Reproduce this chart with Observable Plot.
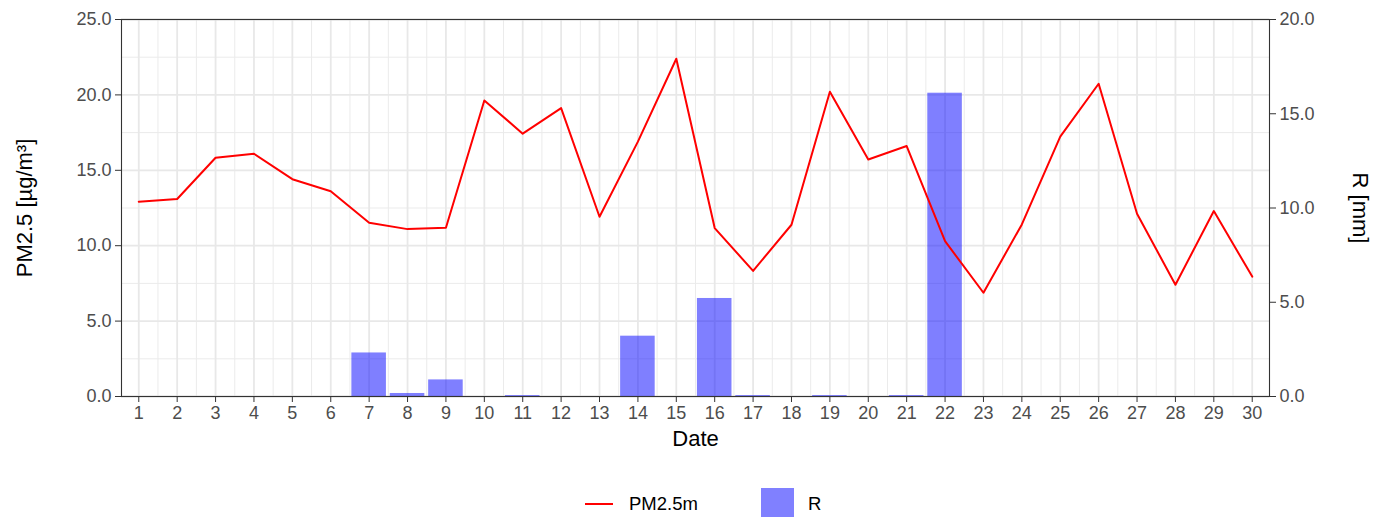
<!DOCTYPE html>
<html>
<head>
<meta charset="utf-8">
<script src="https://cdn.jsdelivr.net/npm/d3@7"></script>
<script src="https://cdn.jsdelivr.net/npm/@observablehq/plot@0.6"></script>
<style>
  body { margin: 0; background: #fff; font-family: "Liberation Sans", Arial, sans-serif; }
  #wrap { width: 1376px; }
  #legend { position: relative; width: 1376px; height: 47px; overflow: hidden; font-size: 18.5px; color: #000; }
  #legend .ln { position: absolute; left: 585px; top: 33px; width: 28px; height: 2px; background: #ff0000; }
  #legend .sq { position: absolute; left: 761px; top: 18px; width: 33px; height: 33px; background: #8080ff; }
  #legend .t1 { position: absolute; left: 629px; top: 23px; line-height: 22px; }
  #legend .t2 { position: absolute; left: 808px; top: 23px; line-height: 22px; }
  svg g[aria-label="y-axis tick label"] text, svg g[aria-label="x-axis tick label"] text { fill: #4d4d4d; }
</style>
</head>
<body>
<div id="wrap">
  <div id="chart"></div>
  <div id="legend">
    <div class="ln"></div><div class="t1">PM2.5m</div>
    <div class="sq"></div><div class="t2">R</div>
  </div>
</div>
<script>
const days = [1,2,3,4,5,6,7,8,9,10,11,12,13,14,15,16,17,18,19,20,21,22,23,24,25,26,27,28,29,30];
const pm25 = [12.92,13.10,15.83,16.10,14.41,13.61,11.52,11.10,11.19,19.63,17.43,19.12,11.92,16.9,22.40,11.17,8.33,11.39,20.21,15.72,16.61,10.30,6.88,11.41,17.23,20.74,12.12,7.41,12.30,7.95];
const rain = [0,0,0,0,0,0,2.31,0.16,0.88,0,0.05,0,0,3.2,0,5.2,0.05,0,0.05,0,0.05,16.09,0,0,0,0,0,0,0,0];
const pmTicks = [0,5,10,15,20,25];
const pmMinor = [2.5,7.5,12.5,17.5,22.5];
const rTicks = [0,5,10,15,20];
const dayMinor = days.slice(0,-1).map(d => d + 0.5);
const ratio = 25 / 20;

const data = days.map((d, i) => ({day: d, pm: pm25[i], r: rain[i]}));

const W = 1376, H = 470;
const chart = Plot.plot({
  width: W,
  height: H,
  marginLeft: 121,
  marginRight: 107,
  marginTop: 19,
  marginBottom: H - 396,
  style: {fontFamily: '"Liberation Sans", Arial, sans-serif', fontSize: "18px", background: "white", overflow: "visible"},
  x: {domain: [0.55, 30.45]},
  y: {domain: [0, 25]},
  marks: [
    Plot.gridX(dayMinor, {stroke: "#ebebeb", strokeOpacity: 1, strokeWidth: 1}),
    Plot.gridY(pmMinor, {stroke: "#ebebeb", strokeOpacity: 1, strokeWidth: 1}),
    Plot.gridX(days, {stroke: "#e8e8e8", strokeOpacity: 1, strokeWidth: 1.8}),
    Plot.gridY(pmTicks, {stroke: "#e8e8e8", strokeOpacity: 1, strokeWidth: 1.8}),
    Plot.rectY(data, {x1: d => d.day - 0.45, x2: d => d.day + 0.45, y1: 0, y2: d => d.r * ratio, fill: "#0000ff", fillOpacity: 0.5}),
    Plot.line(data, {x: "day", y: "pm", stroke: "#ff0000", strokeWidth: 2}),
    Plot.frame({stroke: "#333333", strokeWidth: 1.1}),
    Plot.axisY(pmTicks, {anchor: "left", tickFormat: d => d.toFixed(1), tickSize: 6, tickPadding: 4, label: null, stroke: "#333333", fontSize: 18}),
    Plot.axisY(rTicks.map(v => v * ratio), {anchor: "right", tickFormat: d => (d / ratio).toFixed(1), tickSize: 6, tickPadding: 4, label: null, stroke: "#333333", fontSize: 18}),
    Plot.axisX(days, {anchor: "bottom", tickFormat: d => String(d), tickSize: 6, tickPadding: 4, label: null, stroke: "#333333", fontSize: 18}),
    Plot.text(["PM2.5 [µg/m³]"], {frameAnchor: "left", dx: -97, rotate: -90, textAnchor: "middle", lineAnchor: "middle", fontSize: 22, fill: "black"}),
    Plot.text(["R [mm]"], {frameAnchor: "right", dx: 91, rotate: 90, textAnchor: "middle", lineAnchor: "middle", fontSize: 22, fill: "black"}),
    Plot.text(["Date"], {frameAnchor: "bottom", dy: 42, textAnchor: "middle", lineAnchor: "middle", fontSize: 22, fill: "black"})
  ]
});
document.getElementById("chart").appendChild(chart);
</script>
</body>
</html>
